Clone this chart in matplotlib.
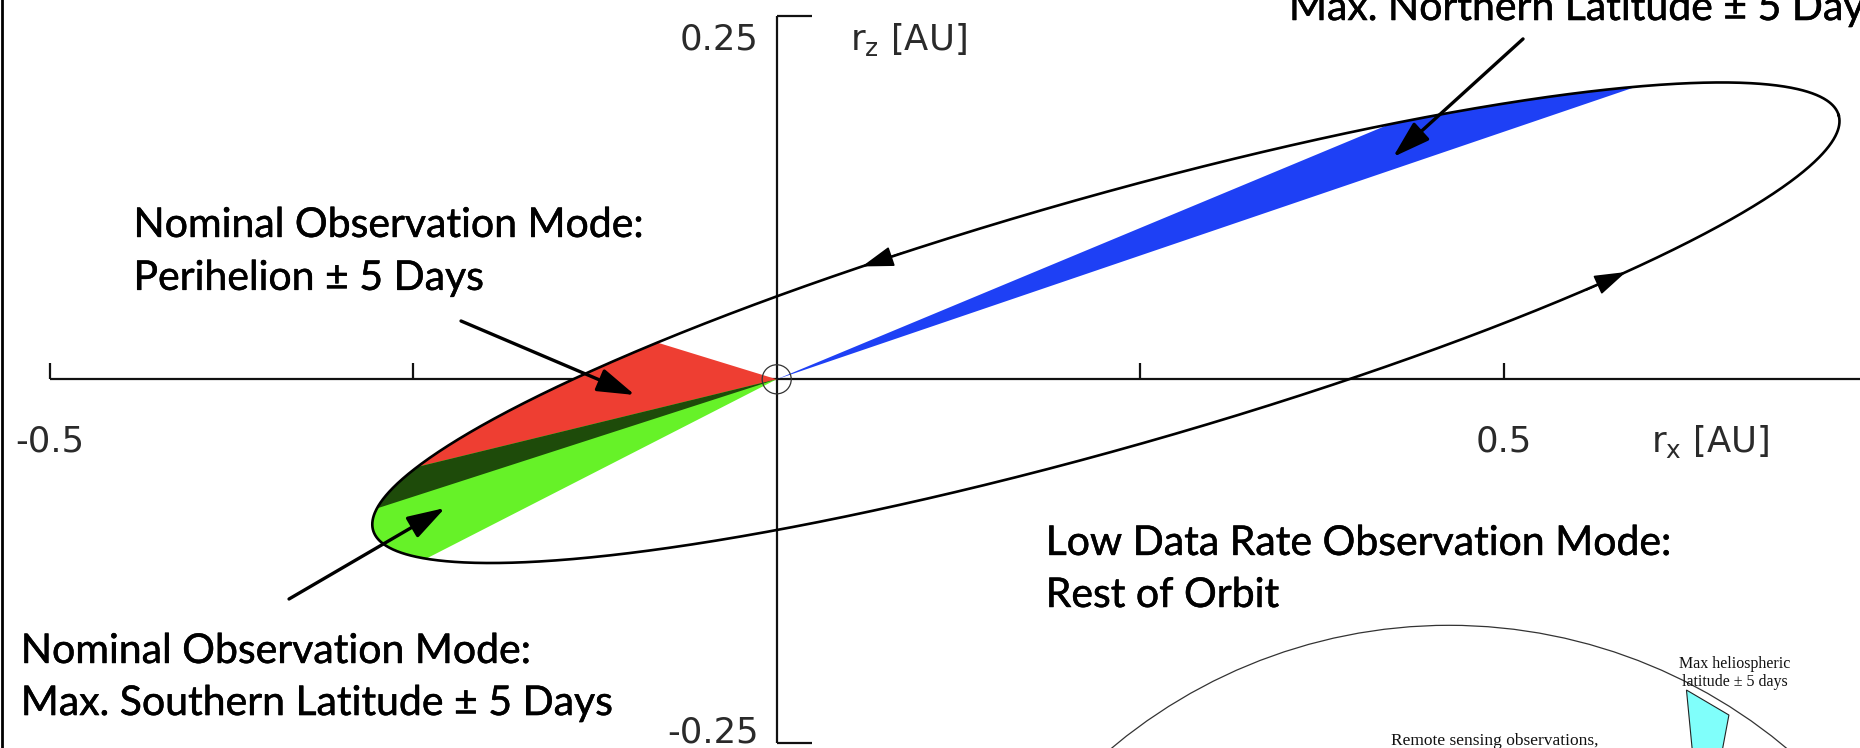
import numpy as np
import matplotlib
matplotlib.use("Agg")
import matplotlib.pyplot as plt
import matplotlib.patheffects as pe
from matplotlib.patches import Polygon, Circle
from matplotlib.lines import Line2D

plt.rcParams["mathtext.fontset"] = "dejavusans"

# projected orbit in the x-z plane (AU): centre, semi-axes, tilt
orbit_center = (0.2264, 0.0389)
orbit_semi_axes = (0.5238, 0.0866)
orbit_tilt_deg = 15.81

# observation windows as polar angle ranges seen from the Sun (deg)
window_angles = [(18.8, 22.6), (162.9, 197.9), (193.7, 207.1)]
window_colors = ["#1e40f5", "#ee3e32", "#66f228"]
overlap_color = "#1e4b0a"

# direction-of-motion arrows on the orbit (polar angle of the tip, deg)
motion_angles = [52.9, 7.2]

x_ticks = [-0.5, -0.25, 0.25, 0.5]
x_tick_labels = ["-0.5", "", "", "0.5"]
y_ticks = [-0.25, 0.25]
y_tick_labels = ["-0.25", "0.25"]

# mode labels: (text lines, left x, baselines in AU)
mode_labels = [
    (["Nominal Observation Mode:", "Perihelion \u00b1 5 Days"], -0.4424, [0.0979, 0.0615]),
    (["Nominal Observation Mode:", "Max. Southern Latitude \u00b1 5 Days"], -0.5199, [-0.1951, -0.2309]),
    (["Max. Northern Latitude \u00b1 5 Days"], 0.3523, [0.2471]),
    (["Low Data Rate Observation Mode:", "Rest of Orbit"], 0.1850, [-0.1208, -0.1566]),
]
# pointer arrows: (tail, tip) in AU
pointer_arrows = [
    ((-0.2171, 0.0401), (-0.0975, -0.0108)),
    ((-0.3354, -0.1511), (-0.2281, -0.0885)),
    ((0.5133, 0.2341), (0.4239, 0.1529)),
]

AU_PX = 1454.0
W, H = 1860, 748
ORIGIN_PX = (776.7, 379.3)


def orbit_xy(t):
    a, b = orbit_semi_axes
    th = np.radians(orbit_tilt_deg)
    u, v = a * np.cos(t), b * np.sin(t)
    x = orbit_center[0] + u * np.cos(th) - v * np.sin(th)
    y = orbit_center[1] + u * np.sin(th) + v * np.cos(th)
    return x, y


def ray_hit(phi_deg):
    """Where a ray from the Sun at polar angle phi meets the orbit."""
    phi = np.radians(phi_deg)
    th = np.radians(orbit_tilt_deg)
    a, b = orbit_semi_axes
    cx, cy = orbit_center
    ox = -cx * np.cos(th) - cy * np.sin(th)
    oy = cx * np.sin(th) - cy * np.cos(th)
    dx = np.cos(phi) * np.cos(th) + np.sin(phi) * np.sin(th)
    dy = -np.cos(phi) * np.sin(th) + np.sin(phi) * np.cos(th)
    qa = (dx / a) ** 2 + (dy / b) ** 2
    qb = 2 * (ox * dx / a ** 2 + oy * dy / b ** 2)
    qc = (ox / a) ** 2 + (oy / b) ** 2 - 1
    r = (-qb + np.sqrt(qb * qb - 4 * qa * qc)) / (2 * qa)
    return r * np.cos(phi), r * np.sin(phi)


def sector(lo, hi):
    xs, ys = ray_hit(np.linspace(lo, hi, 200))
    return np.column_stack([np.r_[0.0, xs], np.r_[0.0, ys]])


fig = plt.figure(figsize=(W / 100, H / 100), dpi=100)
ax = fig.add_axes([0, 0, 1, 1])
ax.set_xlim(-ORIGIN_PX[0] / AU_PX, (W - ORIGIN_PX[0]) / AU_PX)
ax.set_ylim(-(H - ORIGIN_PX[1]) / AU_PX, ORIGIN_PX[1] / AU_PX)
ax.axis("off")

# axes through the Sun
axis_kw = dict(color="#111111", lw=1.6, solid_capstyle="butt", zorder=1)
ax.plot([-0.5, 0.76], [0, 0], **axis_kw)
ax.plot([0, 0], [-0.25, 0.25], **axis_kw)
for xt in x_ticks:
    ax.plot([xt, xt], [0, 0.011], **axis_kw)
for yt in y_ticks:
    ax.plot([0, 0.024], [yt, yt], **axis_kw)

tick_font = dict(family="DejaVu Sans", size=25.5, color="#2a2a2a")
for xt, lab in zip(x_ticks, x_tick_labels):
    if lab:
        ax.text(xt, -0.050, lab, ha="center", va="baseline", **tick_font)
ax.text(-0.0122, 0.2265, y_tick_labels[1], ha="right", va="baseline", **tick_font)
ax.text(-0.0122, -0.2498, y_tick_labels[0], ha="right", va="baseline", **tick_font)
ax.text(0.0504, 0.2265, r"r$_\mathrm{z}$ [AU]", ha="left", va="baseline", **tick_font)
ax.text(0.6010, -0.0500, r"r$_\mathrm{x}$ [AU]", ha="left", va="baseline", **tick_font)

# observation windows
for (lo, hi), col in zip(window_angles, window_colors):
    ax.add_patch(Polygon(sector(lo, hi), closed=True, fc=col, ec="none", zorder=2))
lo = max(window_angles[1][0], window_angles[2][0])
hi = min(window_angles[1][1], window_angles[2][1])
ax.add_patch(Polygon(sector(lo, hi), closed=True, fc=overlap_color, ec="none", zorder=2))

# orbit
t = np.linspace(0, 2 * np.pi, 1441)
ox, oy = orbit_xy(t)
ax.plot(ox, oy, color="black", lw=1.9, zorder=3)

# Sun
ax.add_patch(Circle((0, 0), 0.0100, fill=False, ec="#333333", lw=0.9, zorder=4))

# direction of motion
for ang in motion_angles:
    tip = np.array(ray_hit(ang))
    step = np.array(ray_hit(ang + 0.2)) - np.array(ray_hit(ang - 0.2))
    tail = tip - 0.03 * step / np.hypot(*step)
    ax.annotate("", xy=tip, xytext=tail, zorder=5,
                arrowprops=dict(arrowstyle="-|>,head_length=1.0,head_width=0.32",
                                mutation_scale=20, color="black", lw=1.2,
                                shrinkA=0, shrinkB=0))

# mode labels and pointers
label_font = dict(family="Lato", size=29.5, color="black",
                  path_effects=[pe.withStroke(linewidth=0.35, foreground="black")])
for lines, x0, baselines in mode_labels:
    for line, yb in zip(lines, baselines):
        ax.text(x0, yb, line, ha="left", va="baseline", zorder=6, **label_font)

for tail, tip in pointer_arrows:
    ax.annotate("", xy=tip, xytext=tail, zorder=6,
                arrowprops=dict(arrowstyle="-|>,head_length=1.15,head_width=0.36",
                                mutation_scale=20, color="black", lw=2.4,
                                shrinkA=0, shrinkB=0))

# inset schematic in the lower right corner
ax.add_patch(Circle((0.4624, -0.5303), 0.3611, fill=False, ec="#333333", lw=0.9, zorder=2))
ax.add_patch(Polygon([(0.6257, -0.2137), (0.6549, -0.2309), (0.6478, -0.2686), (0.6310, -0.2686)],
                     closed=True, fc="#80fffb", ec="#222222", lw=0.8, zorder=3))
serif = dict(family="Liberation Serif", color="#111111")
ax.text(0.6206, -0.1986, "Max heliospheric", ha="left", va="baseline", size=11.5, **serif)
ax.text(0.6226, -0.2109, "latitude \u00b1 5 days", ha="left", va="baseline", size=11.5, **serif)
ax.text(0.4225, -0.2515, "Remote sensing observations,", ha="left", va="baseline", size=12.5, **serif)

# frame edge on the left
fig.add_artist(Line2D([0.0012, 0.0012], [0, 1], transform=fig.transFigure, color="black", lw=2))

fig.savefig("out.png", dpi=100)
